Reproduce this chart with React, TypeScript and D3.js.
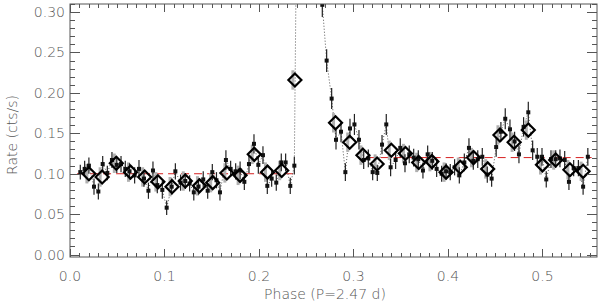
import React, { useEffect, useRef } from 'react';
import * as d3 from 'd3';

// small points (phase, rate, error)
const phases = [
  0.0109, 0.0155, 0.0200, 0.0254, 0.0300, 0.0346, 0.0395, 0.0444, 0.0495, 0.0540,
  0.0585, 0.0630, 0.0684, 0.0730, 0.0783, 0.0830, 0.0878, 0.0924, 0.0977, 0.1023,
  0.1076, 0.1115, 0.1170, 0.1220, 0.1266, 0.1310, 0.1360, 0.1410, 0.1457, 0.1506,
  0.1550, 0.1587, 0.1650, 0.1700, 0.1753, 0.1800, 0.1845, 0.1894, 0.1947, 0.1993,
  0.2042, 0.2088, 0.2134, 0.2183, 0.2236, 0.2282, 0.2331, 0.2374, 0.2405, 0.2455,
  0.2505, 0.2555, 0.2615, 0.2670, 0.2716, 0.2769, 0.2815, 0.2868, 0.2914, 0.2963,
  0.3010, 0.3058, 0.3108, 0.3157, 0.3203, 0.3252, 0.3302, 0.3347, 0.3393, 0.3446,
  0.3495, 0.3545, 0.3590, 0.3637, 0.3686, 0.3735, 0.3785, 0.3834, 0.3880, 0.3933,
  0.3980, 0.4024, 0.4070, 0.4120, 0.4173, 0.4222, 0.4268, 0.4315, 0.4363, 0.4416,
  0.4462, 0.4510, 0.4560, 0.4606, 0.4656, 0.4705, 0.4751, 0.4800, 0.4850, 0.4896,
  0.4945, 0.4995, 0.5040, 0.5090, 0.5140, 0.5185, 0.5235, 0.5280, 0.5330, 0.5380,
  0.5430, 0.5480
];
const rates = [
  0.102, 0.106, 0.110, 0.084, 0.078, 0.112, 0.101, 0.117, 0.111, 0.112,
  0.106, 0.103, 0.098, 0.106, 0.094, 0.079, 0.104, 0.086, 0.080, 0.058,
  0.084, 0.103, 0.089, 0.091, 0.088, 0.077, 0.084, 0.093, 0.079, 0.102,
  0.092, 0.077, 0.117, 0.106, 0.103, 0.104, 0.090, 0.112, 0.137, 0.111,
  0.123, 0.085, 0.094, 0.089, 0.114, 0.114, 0.085, 0.110, 0.500, 0.620,
  0.660, 0.550, 0.420, 0.309, 0.240, 0.193, 0.142, 0.152, 0.102, 0.156,
  0.161, 0.142, 0.117, 0.119, 0.102, 0.101, 0.136, 0.161, 0.108, 0.117,
  0.132, 0.113, 0.124, 0.120, 0.118, 0.104, 0.124, 0.116, 0.106, 0.100,
  0.103, 0.102, 0.108, 0.098, 0.114, 0.132, 0.116, 0.118, 0.121, 0.099,
  0.094, 0.133, 0.152, 0.168, 0.155, 0.140, 0.124, 0.158, 0.176, 0.129,
  0.121, 0.121, 0.093, 0.118, 0.118, 0.119, 0.117, 0.090, 0.107, 0.107,
  0.084, 0.121
];
const errs = [
  0.009, 0.010, 0.010, 0.010, 0.010, 0.010, 0.009, 0.010, 0.010, 0.010,
  0.010, 0.010, 0.010, 0.011, 0.010, 0.010, 0.011, 0.010, 0.011, 0.009,
  0.010, 0.010, 0.010, 0.010, 0.010, 0.010, 0.010, 0.010, 0.010, 0.010,
  0.010, 0.010, 0.012, 0.010, 0.010, 0.011, 0.010, 0.011, 0.012, 0.011,
  0.011, 0.010, 0.010, 0.010, 0.011, 0.011, 0.010, 0.011, 0.020, 0.020,
  0.020, 0.020, 0.020, 0.015, 0.014, 0.013, 0.012, 0.013, 0.011, 0.012,
  0.013, 0.012, 0.011, 0.011, 0.010, 0.010, 0.012, 0.013, 0.011, 0.011,
  0.012, 0.011, 0.011, 0.011, 0.011, 0.010, 0.011, 0.011, 0.010, 0.010,
  0.010, 0.010, 0.010, 0.010, 0.011, 0.012, 0.011, 0.011, 0.011, 0.010,
  0.010, 0.012, 0.012, 0.013, 0.012, 0.012, 0.011, 0.012, 0.013, 0.012,
  0.011, 0.011, 0.010, 0.011, 0.011, 0.011, 0.011, 0.010, 0.010, 0.010,
  0.010, 0.011
];

// binned points (diamonds)
const binPhases = [
  0.020, 0.034, 0.049, 0.064, 0.079, 0.093, 0.108, 0.122, 0.137, 0.151,
  0.166, 0.180, 0.195, 0.209, 0.224, 0.238, 0.281, 0.296, 0.310, 0.325,
  0.340, 0.355, 0.369, 0.383, 0.398, 0.413, 0.427, 0.442, 0.455, 0.470,
  0.485, 0.500, 0.514, 0.529, 0.543
];
const binRates = [
  0.100, 0.096, 0.113, 0.102, 0.096, 0.090, 0.084, 0.091, 0.085, 0.089,
  0.101, 0.098, 0.124, 0.102, 0.104, 0.216, 0.163, 0.139, 0.123, 0.112,
  0.129, 0.125, 0.114, 0.115, 0.102, 0.108, 0.120, 0.106, 0.148, 0.139,
  0.154, 0.111, 0.117, 0.105, 0.103
];

// quiescent levels (red dashed)
const levelStart = [0.0075, 0.315];
const levelEnd = [0.238, 0.552];
const levelRate = [0.100, 0.120];

const xTicks = [0, 0.1, 0.2, 0.3, 0.4, 0.5];
const yTicks = [0, 0.05, 0.10, 0.15, 0.20, 0.25, 0.30];

const W = 600;
const H = 304;
const margin = { top: 4, right: 3, bottom: 47, left: 70 };
const axisColor = '#555';
const fontFamily = '"DejaVu Sans", sans-serif';

const App = () => {
  const svgRef = useRef<SVGSVGElement>(null);

  useEffect(() => {
    const svg = d3.select(svgRef.current);
    svg.selectAll('*').remove();

    const x0 = margin.left;
    const x1 = W - margin.right;
    const y0 = margin.top;
    const y1 = H - margin.bottom;

    const x = d3.scaleLinear().domain([0, 0.5577]).range([x0, x1]);
    const y = d3.scaleLinear().domain([-0.003, 0.31]).range([y1, y0]);

    svg.append('defs').append('clipPath').attr('id', 'plot-clip')
      .append('rect')
      .attr('x', x0).attr('y', y0)
      .attr('width', x1 - x0).attr('height', y1 - y0);

    const plot = svg.append('g').attr('clip-path', 'url(#plot-clip)');

    // red dashed levels
    plot.selectAll('line.level')
      .data(levelRate)
      .join('line')
        .attr('class', 'level')
        .attr('x1', (d, i) => x(levelStart[i]))
        .attr('x2', (d, i) => x(levelEnd[i]))
        .attr('y1', d => y(d))
        .attr('y2', d => y(d))
        .attr('stroke', '#d62020')
        .attr('stroke-width', 1)
        .attr('stroke-dasharray', '8,5');

    const pts = phases.map((p, i) => ({ p, r: rates[i], e: errs[i], i }));

    // dotted connecting line
    const line = d3.line<any>().x(d => x(d.p)).y(d => y(d.r));
    plot.append('path')
      .datum(pts)
      .attr('d', line)
      .attr('fill', 'none')
      .attr('stroke', '#555')
      .attr('stroke-width', 1)
      .attr('stroke-dasharray', '1,2');

    // gray error bars of bins
    plot.selectAll('line.binerr')
      .data(binRates)
      .join('line')
        .attr('class', 'binerr')
        .attr('x1', (d, i) => x(binPhases[i]) - 2)
        .attr('x2', (d, i) => x(binPhases[i]) - 2)
        .attr('y1', d => y(d - 0.012))
        .attr('y2', d => y(d + 0.012))
        .attr('stroke', '#b0b0b0')
        .attr('stroke-width', 3);

    // point error bars
    plot.selectAll('line.err')
      .data(pts)
      .join('line')
        .attr('class', 'err')
        .attr('x1', d => x(d.p))
        .attr('x2', d => x(d.p))
        .attr('y1', d => y(d.r - d.e))
        .attr('y2', d => y(d.r + d.e))
        .attr('stroke', '#222')
        .attr('stroke-width', 1.2);

    // small squares
    plot.selectAll('rect.pt')
      .data(pts)
      .join('rect')
        .attr('class', 'pt')
        .attr('x', d => x(d.p) - 2)
        .attr('y', d => y(d.r) - 2)
        .attr('width', 4)
        .attr('height', 4)
        .attr('fill', '#111');

    // diamonds
    const s = 6.5;
    plot.selectAll('path.bin')
      .data(binRates)
      .join('path')
        .attr('class', 'bin')
        .attr('d', (d, i) => {
          const cx = x(binPhases[i]);
          const cy = y(d);
          return `M${cx},${cy - s}L${cx + s},${cy}L${cx},${cy + s}L${cx - s},${cy}Z`;
        })
        .attr('fill', 'none')
        .attr('stroke', '#000')
        .attr('stroke-width', 2.2);

    // frame
    svg.append('rect')
      .attr('x', x0).attr('y', y0)
      .attr('width', x1 - x0).attr('height', y1 - y0)
      .attr('fill', 'none')
      .attr('stroke', axisColor)
      .attr('stroke-width', 1);

    // ticks on all sides
    const xMinor = d3.range(0, 56).map(k => k / 100);
    const yMinor = d3.range(0, 32).map(k => k / 100);
    const tickG = svg.append('g').attr('stroke', axisColor).attr('stroke-width', 1);

    xMinor.forEach(v => {
      const major = Math.round(v * 100) % 10 === 0;
      const len = major ? 8 : 4;
      const px = Math.round(x(v)) + 0.5;
      tickG.append('line').attr('x1', px).attr('x2', px).attr('y1', y1).attr('y2', y1 - len);
      tickG.append('line').attr('x1', px).attr('x2', px).attr('y1', y0).attr('y2', y0 + len);
    });
    yMinor.forEach(v => {
      const major = Math.round(v * 100) % 5 === 0;
      const len = major ? 10 : 5;
      const py = Math.round(y(v)) + 0.5;
      tickG.append('line').attr('x1', x0).attr('x2', x0 + len).attr('y1', py).attr('y2', py);
      tickG.append('line').attr('x1', x1).attr('x2', x1 - len).attr('y1', py).attr('y2', py);
    });

    const textStyle = (sel: any) => sel
      .style('font-family', fontFamily)
      .style('font-weight', 200)
      .style('font-size', '14px')
      .attr('fill', '#555');

    svg.selectAll('text.xt')
      .data(xTicks)
      .join('text')
        .attr('class', 'xt')
        .attr('x', d => x(d))
        .attr('y', y1 + 24)
        .attr('text-anchor', 'middle')
        .text(d => d3.format('.1f')(d))
        .call(textStyle);

    svg.selectAll('text.yt')
      .data(yTicks)
      .join('text')
        .attr('class', 'yt')
        .attr('x', x0 - 5)
        .attr('y', d => y(d) + 5)
        .attr('text-anchor', 'end')
        .text(d => d3.format('.2f')(d))
        .call(textStyle);

    svg.append('text')
      .attr('x', 325)
      .attr('y', H - 5)
      .attr('text-anchor', 'middle')
      .text('Phase (P=2.47 d)')
      .call(textStyle);

    svg.append('text')
      .attr('transform', `translate(17,135) rotate(-90)`)
      .attr('text-anchor', 'middle')
      .text('Rate (cts/s)')
      .call(textStyle);
  }, []);

  return (
    <svg
      ref={svgRef}
      width={W}
      height={H}
      style={{ position: 'absolute', left: 0, top: 0, background: '#fff' }}
    />
  );
};

export default App;
